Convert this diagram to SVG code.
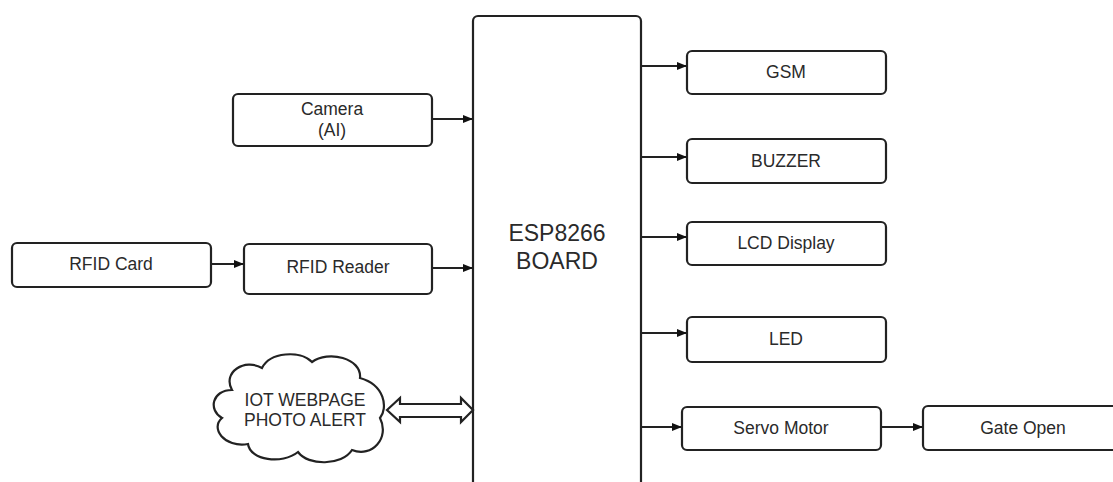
<svg xmlns="http://www.w3.org/2000/svg" width="1113" height="482" viewBox="0 0 1113 482">
<style>
.box{fill:#fff;stroke:#222;stroke-width:2.2}
.t{font-family:"Liberation Sans",Arial,sans-serif;font-size:17.5px;fill:#2a2a2a;text-anchor:middle;dominant-baseline:central}
.big{font-size:23px}
.ln{stroke:#222;stroke-width:1.8;fill:none}
</style>
<defs>
<marker id="ah" viewBox="0 0 10 8" refX="10" refY="4" markerWidth="11" markerHeight="8" markerUnits="userSpaceOnUse" orient="auto">
<path d="M0,0 L10,4 L0,8 Z" fill="#111"/>
</marker>
</defs>
<rect width="1113" height="482" fill="#fff"/>
<g id="esp"><rect class="box" x="473" y="16" width="168" height="500" rx="5"/>
<text class="t big" x="557" y="233">ESP8266</text><text class="t big" x="557" y="261">BOARD</text></g>
<g id="camera"><rect class="box" x="233" y="94" width="199" height="52" rx="5"/>
<text class="t" x="332" y="109">Camera</text><text class="t" x="332" y="130">(AI)</text></g>
<g id="rfidcard"><rect class="box" x="12" y="243" width="199" height="44" rx="5"/>
<text class="t" x="111" y="264">RFID Card</text></g>
<g id="rfidreader"><rect class="box" x="244" y="244" width="188" height="50" rx="5"/>
<text class="t" x="338" y="267">RFID Reader</text></g>
<g id="cloud"><path class="box" d="M232 390 C222 372,245 358,262 368 C270 352,300 350,312 362 C328 350,362 358,360 378 C385 385,388 408,380 418 C390 438,372 458,352 450 C342 466,308 466,298 452 C282 465,250 460,248 444 C224 448,210 428,222 418 C208 410,212 390,232 390 Z"/>
<text class="t" x="305" y="400">IOT WEBPAGE</text><text class="t" x="305" y="420">PHOTO ALERT</text></g>
<g id="gsm"><rect class="box" x="687" y="51" width="199" height="43" rx="5"/><text class="t" x="786" y="72">GSM</text></g>
<g id="buzzer"><rect class="box" x="687" y="139" width="199" height="44" rx="5"/><text class="t" x="786" y="161">BUZZER</text></g>
<g id="lcd"><rect class="box" x="687" y="222" width="199" height="43" rx="5"/><text class="t" x="786" y="243">LCD Display</text></g>
<g id="led"><rect class="box" x="687" y="317" width="199" height="45" rx="5"/><text class="t" x="786" y="339">LED</text></g>
<g id="servo"><rect class="box" x="682" y="407" width="199" height="43" rx="5"/><text class="t" x="781" y="428">Servo Motor</text></g>
<g id="gate"><rect class="box" x="923" y="406" width="200" height="44" rx="5"/><text class="t" x="1023" y="428">Gate Open</text></g>
<g id="connectors">
<line class="ln" x1="432" y1="119" x2="473" y2="119" marker-end="url(#ah)"/>
<line class="ln" x1="211" y1="264" x2="244" y2="264" marker-end="url(#ah)"/>
<line class="ln" x1="432" y1="268" x2="473" y2="268" marker-end="url(#ah)"/>
<line class="ln" x1="641" y1="66" x2="687" y2="66" marker-end="url(#ah)"/>
<line class="ln" x1="641" y1="157" x2="687" y2="157" marker-end="url(#ah)"/>
<line class="ln" x1="641" y1="237" x2="687" y2="237" marker-end="url(#ah)"/>
<line class="ln" x1="641" y1="333" x2="687" y2="333" marker-end="url(#ah)"/>
<line class="ln" x1="641" y1="427" x2="682" y2="427" marker-end="url(#ah)"/>
<line class="ln" x1="881" y1="427" x2="923" y2="427" marker-end="url(#ah)"/>
<path class="box" d="M387 410 L400 398 L400 404 L461 404 L461 398 L473 410 L461 422 L461 417 L400 417 L400 422 Z"/>
</g>
</svg>
